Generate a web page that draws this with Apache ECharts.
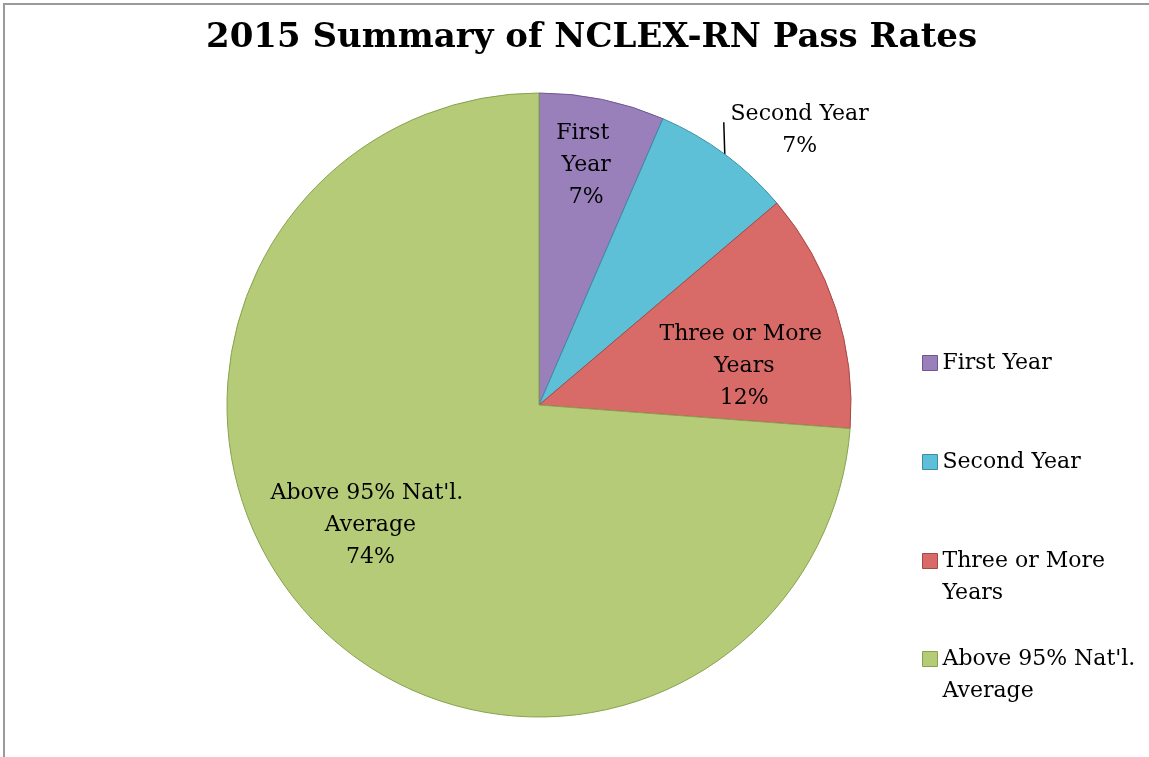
<!DOCTYPE html>
<html lang="en">
<head>
	<meta charset="UTF-8">
	<title>2015 Summary of NCLEX-RN Pass Rates</title>
	<script src="https://cdn.jsdelivr.net/npm/echarts@6/dist/echarts.min.js"></script>
	<style>
		html, body { margin: 0; padding: 0; background: #fff; overflow: hidden; }
		.frame { position: absolute; left: 3px; top: 3px; width: 1200px; height: 800px;
			border-left: 2px solid #9a9a9a; border-top: 2px solid #9a9a9a; }
		#main { position: absolute; left: 0; top: 0; width: 1149px; height: 757px; }
	</style>
</head>
<body>
	<div class="frame"></div>
	<div id="main"></div>
	<script>
		// 数据
		var categories = ['First Year', 'Second Year', 'Three or More Years', "Above 95% Nat'l. Average"];
		var shares = [6.5, 7.3, 12.4, 73.8];
		var colors = ['#9a80bb', '#5ec0d6', '#d86b68', '#b5cb78'];
		var edges = ['#6f5890', '#3a8fa6', '#a84846', '#87a24e'];

		var serif = '"DejaVu Serif", "Liberation Serif", serif';

		// 标签样式 (per slice)
		var labelStyles = [
			{ position: 'inside', width: 70, offset: [15, -84] },
			{ position: 'outside', formatter: '{c|{b}}\n{c|{d}%}', rich: { c: { width: 140, align: 'center' } } },
			{ position: 'inside', width: 175, offset: [54, 10] },
			{ position: 'inside', width: 225, offset: [-52, 12] }
		];

		var pieData = categories.map(function (name, i) {
			return {
				name: name,
				value: shares[i],
				itemStyle: { color: colors[i], borderColor: edges[i], borderWidth: 1 },
				label: labelStyles[i],
				labelLine: { show: i === 1 }
			};
		});

		// 图例: one per item so the rows sit evenly
		var legendTops = [347, 446, 513, 611];
		var legends = categories.map(function (name, i) {
			return {
				orient: 'vertical',
				left: 922,
				top: legendTops[i],
				padding: 0,
				itemWidth: 15,
				itemHeight: 15,
				itemGap: 0,
				icon: 'rect',
				selectedMode: false,
				// two-line items: blank first line keeps the marker on the first text line
				formatter: i >= 2 ? '\n{name}' : '{name}',
				textStyle: {
					fontFamily: serif, fontSize: 22, color: '#000',
					width: 230, overflow: 'break', lineHeight: 32
				},
				data: [{ name: name, itemStyle: { borderColor: edges[i], borderWidth: 1 } }]
			};
		});
		legends[2].textStyle.width = 175;

		var myChart = echarts.init(document.getElementById('main'), null, { renderer: 'canvas' });
		myChart.setOption({
			backgroundColor: 'transparent',
			animation: false,
			title: {
				text: '2015 Summary of NCLEX-RN Pass Rates',
				left: 201,
				top: 16,
				textStyle: { fontFamily: serif, fontSize: 34, fontWeight: 'bold', color: '#000' }
			},
			legend: legends,
			series: [{
				type: 'pie',
				center: [539, 405],
				radius: 312,
				startAngle: 90,
				clockwise: true,
				percentPrecision: 0,
				label: {
					formatter: '{b}\n{d}%',
					fontFamily: serif,
					fontSize: 22,
					lineHeight: 32,
					color: '#000',
					align: 'center',
					overflow: 'break'
				},
				labelLine: {
					length: 30,
					length2: 0,
					lineStyle: { color: '#000', width: 1.5 }
				},
				labelLayout: function (params) {
					// second-year label: pull it left and run the leader straight up
					if (params.dataIndex === 1 && params.labelLinePoints) {
						var p0 = params.labelLinePoints[0];
						return {
							dx: -18,
							labelLinePoints: [p0, [p0[0] - 1, p0[1] - 32]]
						};
					}
				},
				emphasis: { disabled: true },
				data: pieData
			}]
		});
		window.onresize = function () {
			myChart.resize();
		};
	</script>
</body>
</html>
